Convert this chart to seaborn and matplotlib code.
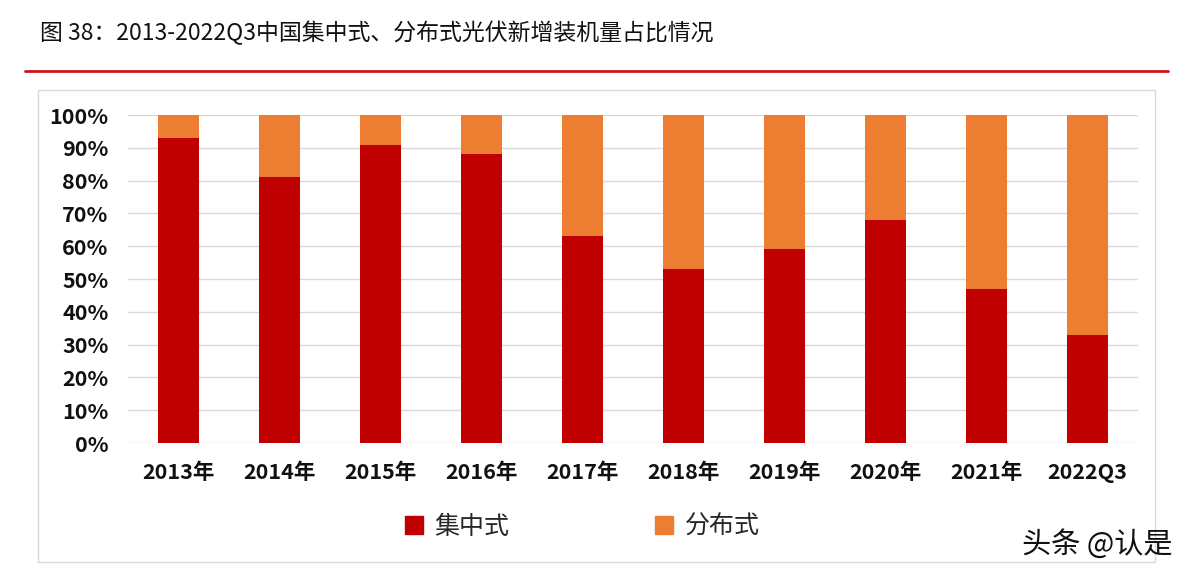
import pandas as pd
import matplotlib.pyplot as plt
import seaborn as sns
from matplotlib.patches import Rectangle
from matplotlib.lines import Line2D

sns.set_theme(style="white")
plt.rcParams['font.family'] = ['Noto Sans CJK SC', 'DejaVu Sans']

years = ["2013年", "2014年", "2015年", "2016年", "2017年",
         "2018年", "2019年", "2020年", "2021年", "2022Q3"]
centralized = [93, 81, 91, 88, 63, 53, 59, 68, 47, 33]
distributed = [7, 19, 9, 12, 37, 47, 41, 32, 53, 67]
series_names = ["集中式", "分布式"]
red = "#c00000"
orange = "#ed7d31"

df = pd.DataFrame({"year": years, "central": centralized, "dist": distributed})
df["total"] = df["central"] + df["dist"]

fig = plt.figure(figsize=(11.9, 5.76), dpi=100)
ax = fig.add_axes([0.1076, 0.2309, 0.8487, 0.5694])

# stacked: draw totals first, then the lower part on top
sns.barplot(data=df, x="year", y="total", color=orange, width=0.41,
            saturation=1, linewidth=0, ax=ax)
sns.barplot(data=df, x="year", y="central", color=red, width=0.41,
            saturation=1, linewidth=0, ax=ax)

ax.set_xlim(-0.5, 9.5)
ax.set_ylim(0, 100)
ax.set_yticks(range(0, 101, 10))
ax.set_yticklabels([f"{v}%" for v in range(0, 101, 10)],
                   fontsize=15.5, fontweight="bold")
ax.set_xticks(range(len(years)))
ax.set_xticklabels(years, fontsize=15.5, fontweight="bold")
ax.set_xlabel("")
ax.set_ylabel("")
ax.tick_params(axis="both", length=0, colors="#111111")
ax.tick_params(axis="x", pad=14)
ax.tick_params(axis="y", pad=14)
ax.yaxis.grid(True, color="#d9d9d9", linewidth=1)
ax.set_axisbelow(True)
for s in ax.spines.values():
    s.set_visible(False)

# title and red rule
fig.text(40 / 1190, 1 - 33 / 576, "图 38：2013-2022Q3中国集中式、分布式光伏新增装机量占比情况",
         fontsize=16.5, va="center", ha="left", color="#111111")
fig.add_artist(Line2D([25 / 1190, 1168 / 1190], [1 - 71 / 576, 1 - 71 / 576],
                      color="#c8161d", linewidth=2, transform=fig.transFigure))

# chart frame
fig.add_artist(Rectangle((38 / 1190, 1 - 562 / 576), (1155 - 38) / 1190,
                         (562 - 90) / 576, transform=fig.transFigure,
                         fill=False, edgecolor="#d9d9d9", linewidth=1))

# legend
handles = [Rectangle((0, 0), 1, 1, color=red), Rectangle((0, 0), 1, 1, color=orange)]
fig.legend(handles, series_names, loc="center", ncol=2,
           bbox_to_anchor=(582 / 1190, 1 - 527 / 576), frameon=False,
           fontsize=18, handlelength=0.75, handleheight=0.75,
           handletextpad=0.45, columnspacing=5.8)

# watermark
fig.text(1172 / 1190, 1 - 545 / 576, "头条 @认是", fontsize=21,
         ha="right", va="center", color="#111111")

fig.savefig("out.png", dpi=100)
